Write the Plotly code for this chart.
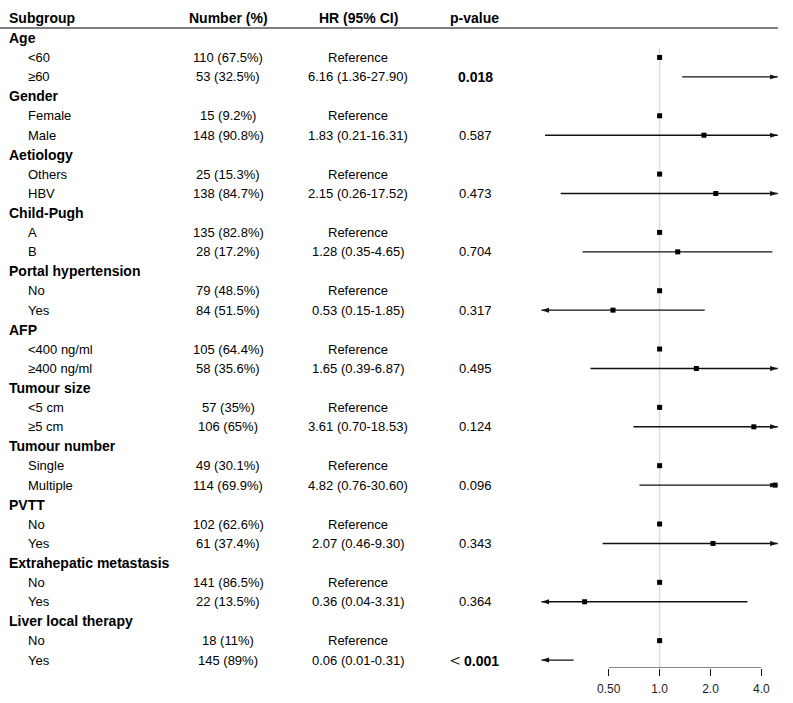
import math
import plotly.graph_objects as go

# ---------------- data ----------------
groups = ["Age", "Gender", "Aetiology", "Child-Pugh", "Portal hypertension", "AFP",
          "Tumour size", "Tumour number", "PVTT", "Extrahepatic metastasis",
          "Liver local therapy"]
levels = [["<60", "≥60"], ["Female", "Male"], ["Others", "HBV"], ["A", "B"],
          ["No", "Yes"], ["<400 ng/ml", "≥400 ng/ml"], ["<5 cm", "≥5 cm"],
          ["Single", "Multiple"], ["No", "Yes"], ["No", "Yes"], ["No", "Yes"]]
numbers = [["110 (67.5%)", "53 (32.5%)"], ["15 (9.2%)", "148 (90.8%)"],
           ["25 (15.3%)", "138 (84.7%)"], ["135 (82.8%)", "28 (17.2%)"],
           ["79 (48.5%)", "84 (51.5%)"], ["105 (64.4%)", "58 (35.6%)"],
           ["57 (35%)", "106 (65%)"], ["49 (30.1%)", "114 (69.9%)"],
           ["102 (62.6%)", "61 (37.4%)"], ["141 (86.5%)", "22 (13.5%)"],
           ["18 (11%)", "145 (89%)"]]
hr = [6.16, 1.83, 2.15, 1.28, 0.53, 1.65, 3.61, 4.82, 2.07, 0.36, 0.06]
lo = [1.36, 0.21, 0.26, 0.35, 0.15, 0.39, 0.70, 0.76, 0.46, 0.04, 0.01]
hi = [27.90, 16.31, 17.52, 4.65, 1.85, 6.87, 18.53, 30.60, 9.30, 3.31, 0.31]
pvals = ["0.018", "0.587", "0.473", "0.704", "0.317", "0.495", "0.124", "0.096",
         "0.343", "0.364", "<0.001"]
significant = [True, False, False, False, False, False, False, False, False, False, True]
headers = ["Subgroup", "Number (%)", "HR (95% CI)", "p-value"]
tick_vals = [0.5, 1.0, 2.0, 4.0]
tick_text = ["0.50", "1.0", "2.0", "4.0"]
clip_lo, clip_hi = 0.2, 5.0

# ---------------- layout helpers ----------------
W, H = 793, 703
FONT = "Liberation Sans, Arial, sans-serif"
ROW0_PX, ROW_H = 38.0, 19.44
PLOT_BOTTOM_PX = 668.0
def px2row(py):
    return (py - ROW0_PX) / ROW_H
y_top = px2row(0)
y_bot = px2row(PLOT_BOTTOM_PX)

COL_SUB_G, COL_SUB_L, COL_NUM, COL_HR, COL_P = 8, 27, 228, 358, 474

fig = go.Figure()
ann = []

def add_text(txt, xpx, row, anchor="center", size=13, bold=False):
    ann.append(dict(text=("<b>%s</b>" % txt) if bold else txt, x=xpx / W, xref="paper",
                    y=row, yref="y", xanchor=anchor, yanchor="middle", showarrow=False,
                    font=dict(family=FONT, size=size, color="#000000")))

# header
hdr_row = px2row(18)
add_text(headers[0], COL_SUB_G - 1, hdr_row, "left", 14, True)
add_text(headers[1], COL_NUM, hdr_row, "center", 14, True)
add_text(headers[2], COL_HR, hdr_row, "center", 14, True)
add_text(headers[3], COL_P, hdr_row, "center", 14, True)

# reference vertical line
fig.add_trace(go.Scatter(x=[1, 1], y=[px2row(48), y_bot], mode="lines",
                         line=dict(color="#dcdcdc", width=1.5), hoverinfo="skip",
                         cliponaxis=False, showlegend=False))

sq_x, sq_y = [], []
arr_r_x, arr_r_y, arr_l_x, arr_l_y = [], [], [], []
for g, name in enumerate(groups):
    r = 3 * g
    add_text(name, COL_SUB_G - 1, r, "left", 14, True)
    # reference row
    add_text(levels[g][0], COL_SUB_L - 1, r + 1, "left")
    add_text(numbers[g][0], COL_NUM, r + 1)
    add_text("Reference", COL_HR, r + 1)
    sq_x.append(1.0); sq_y.append(r + 1)
    # comparison row
    add_text(levels[g][1], COL_SUB_L - 1, r + 2, "left")
    add_text(numbers[g][1], COL_NUM, r + 2)
    add_text("%.2f (%.2f-%.2f)" % (hr[g], lo[g], hi[g]), COL_HR, r + 2)
    p = pvals[g]
    if p.startswith("<"):
        ptxt = "<span style='font-size:18px'>＜</span><b>%s</b>" % p[1:]
        add_text(ptxt, COL_P - 1, r + 2, "center", 14, False)
    else:
        add_text(p, COL_P + 1, r + 2, "center", 14 if significant[g] else 13, significant[g])
    a = max(lo[g], clip_lo)
    b = min(hi[g], clip_hi)
    fig.add_trace(go.Scatter(x=[a, b], y=[r + 2, r + 2], mode="lines",
                             line=dict(color="#111111", width=1.4), hoverinfo="skip",
                             showlegend=False))
    if lo[g] < clip_lo:
        arr_l_x.append(clip_lo); arr_l_y.append(r + 2)
    if hi[g] > clip_hi:
        arr_r_x.append(clip_hi); arr_r_y.append(r + 2)
    if clip_lo <= hr[g] <= clip_hi:
        sq_x.append(hr[g]); sq_y.append(r + 2)

fig.add_trace(go.Scatter(x=sq_x, y=sq_y, mode="markers",
                         marker=dict(symbol="square", size=5, color="#000000"),
                         hoverinfo="skip", cliponaxis=False, showlegend=False))
fig.add_trace(go.Scatter(x=arr_r_x, y=arr_r_y, mode="markers",
                         marker=dict(symbol="arrow", angle=90, size=8, color="#111111"),
                         hoverinfo="skip", cliponaxis=False, showlegend=False))
fig.add_trace(go.Scatter(x=arr_l_x, y=arr_l_y, mode="markers",
                         marker=dict(symbol="arrow", angle=-90, size=8, color="#111111"),
                         hoverinfo="skip", cliponaxis=False, showlegend=False))

# axis baseline from first to last tick
fig.add_trace(go.Scatter(x=[tick_vals[0], tick_vals[-1]], y=[y_bot, y_bot], mode="lines",
                         line=dict(color="#111111", width=1.2), hoverinfo="skip",
                         cliponaxis=False, showlegend=False))

# header separator line
hline_row = px2row(28)
shapes = [dict(type="line", xref="paper", yref="y", x0=0, x1=778 / W,
               y0=hline_row, y1=hline_row, line=dict(color="#555555", width=1.5))]

PX_PER_DEC = 169.0
X1PX = 659.6
dom_l, dom_r = 530, 790
fig.update_layout(
    width=W, height=H,
    margin=dict(l=0, r=0, t=0, b=int(H - PLOT_BOTTOM_PX)),
    paper_bgcolor="white", plot_bgcolor="white",
    annotations=ann, shapes=shapes, showlegend=False,
    xaxis=dict(type="log", domain=[dom_l / W, dom_r / W],
               range=[(dom_l - X1PX) / PX_PER_DEC, (dom_r - X1PX) / PX_PER_DEC],
               tickvals=tick_vals, ticktext=tick_text, ticks="outside", ticklen=7,
               tickwidth=1.2, tickcolor="#111111", showline=False, showgrid=False,
               zeroline=False, ticklabelstandoff=3,
               tickfont=dict(family=FONT, size=12, color="#222222")),
    yaxis=dict(range=[y_bot, y_top], visible=False, showgrid=False, zeroline=False),
)

fig.write_html("out.html")
